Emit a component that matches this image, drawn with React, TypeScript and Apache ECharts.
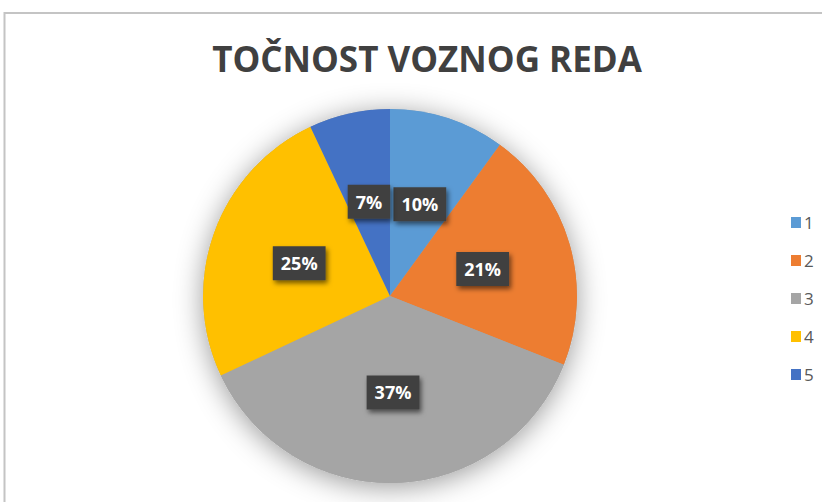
import React, { useEffect, useRef } from "react";
import * as echarts from "echarts";

const titleText = "TOČNOST VOZNOG REDA";
const categories = ["1", "2", "3", "4", "5"];
const values = [10, 21, 37, 25, 7];
const colors = ["#5B9BD5", "#ED7D31", "#A5A5A5", "#FFC000", "#4472C4"];

export default function App() {
  const ref = useRef<HTMLDivElement>(null);
  useEffect(() => {
    const chart = echarts.init(ref.current!, undefined, { renderer: "svg" });
    const total = values.reduce((a, b) => a + b, 0);
    chart.setOption({
      animation: false,
      backgroundColor: "#ffffff",
      title: {
        text: titleText,
        left: 422,
        textAlign: "center",
        top: 36,
        textStyle: {
          fontFamily: "Open Sans",
          fontWeight: "bold",
          fontSize: 35,
          color: "#404040",
        },
      },
      legend: {
        orient: "vertical",
        left: 786,
        top: 209,
        itemWidth: 10,
        itemHeight: 11,
        itemGap: 21,
        icon: "rect",
        data: categories,
        textStyle: { fontFamily: "Open Sans", fontSize: 17, color: "#595959", padding: [0, 0, 0, -2] },
      },
      graphic: [
        {
          type: "rect",
          shape: { x: 4.5, y: 13, width: 840, height: 520 },
          style: { fill: "none", stroke: "#C4C4C4", lineWidth: 2 },
          silent: true,
          z: 0,
        },
      ],
      series: [
        {
          type: "pie",
          center: [390, 296],
          radius: 187,
          silent: true,
          z: 1,
          label: { show: false },
          labelLine: { show: false },
          data: [{ value: 1, name: "__shadow" }],
          itemStyle: {
            color: "#A5A5A5",
            shadowBlur: 28,
            shadowColor: "rgba(0,0,0,0.4)",
            shadowOffsetY: 4,
          },
          legendHoverLink: false,
        },
        {
          type: "pie",
          center: [390, 296],
          radius: 187,
          startAngle: 90,
          clockwise: true,
          z: 2,
          data: categories.map((c, i) => ({
            name: c,
            value: values[i],
            itemStyle: { color: colors[i] },
          })),
          label: {
            show: true,
            position: "inside",
            formatter: (p: any) => Math.round((p.value / total) * 100) + "%",
            color: "#ffffff",
            fontFamily: "Open Sans",
            fontWeight: "bold",
            fontSize: 18,
            lineHeight: 18,
            backgroundColor: "#404040",
            padding: [8, 8, 8, 8],
            shadowColor: "rgba(0,0,0,0.55)",
            shadowBlur: 5,
            shadowOffsetX: 2,
            shadowOffsetY: 3,
          },
          labelLine: { show: false },
          itemStyle: { borderWidth: 0 },
        },
      ],
    });
    return () => chart.dispose();
  }, []);
  return (
    <div
      ref={ref}
      style={{ position: "fixed", left: 0, top: 0, width: 822, height: 502 }}
    />
  );
}
